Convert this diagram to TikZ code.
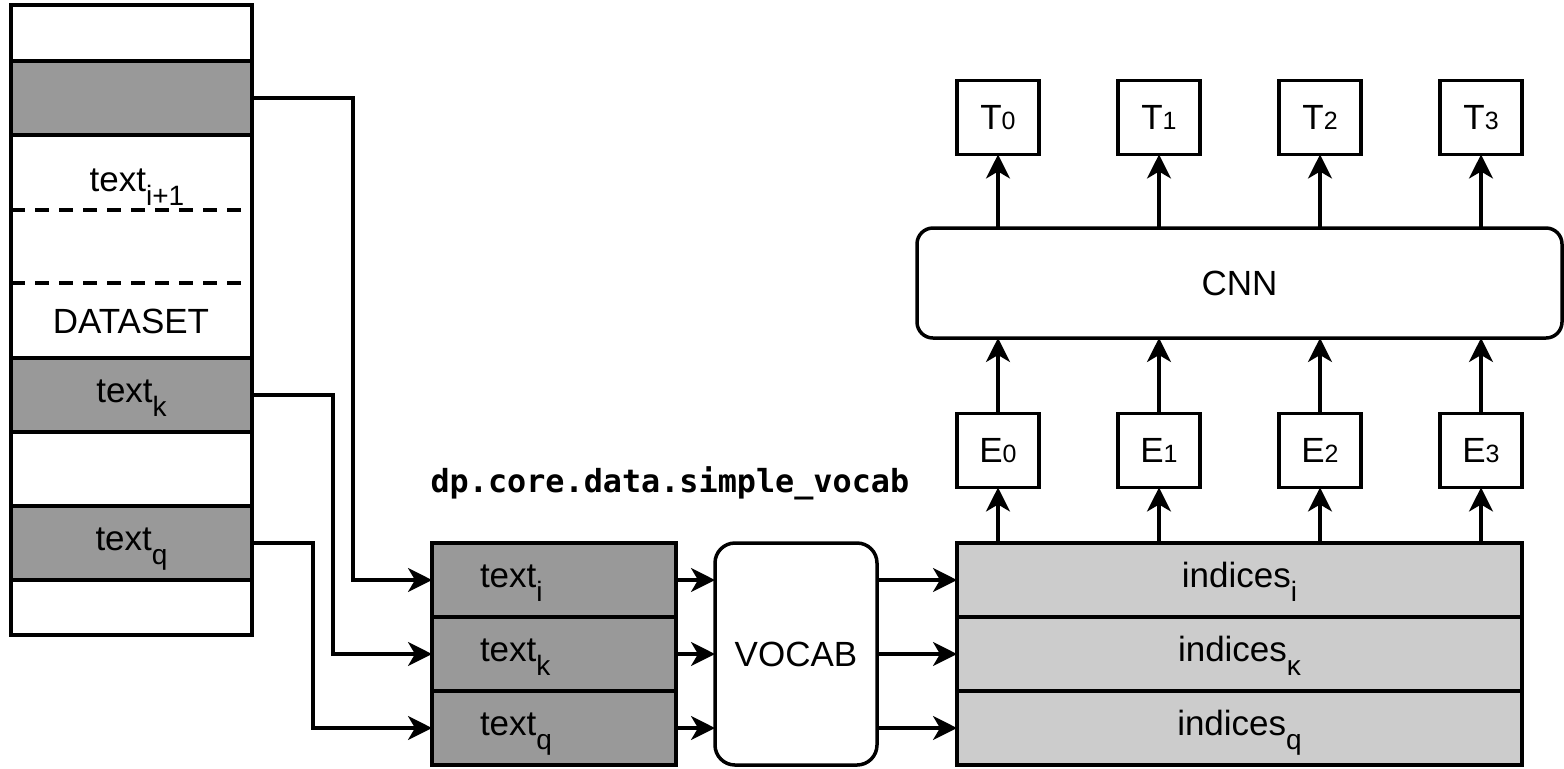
\documentclass[tikz,border=0pt]{standalone}
\usepackage{fontspec}
\setmainfont{Liberation Sans}
\newfontfamily\codefont{DejaVu Sans Mono}[BoldFont={DejaVu Sans Mono Bold}]
\usetikzlibrary{arrows.meta,positioning}

\definecolor{rowdark}{HTML}{999999}
\definecolor{rowlight}{HTML}{CCCCCC}

% lowered subscript and small index digit
\newcommand{\lowsub}[1]{\raisebox{-7pt}{\fontsize{14}{16}\selectfont #1}}
\newcommand{\smallidx}[1]{{\fontsize{12.5}{14}\selectfont #1}}

\tikzset{
  box/.style={draw, line width=1.75pt, inner sep=0pt, outer sep=0pt,
    font=\fontsize{17.5}{21}\selectfont},
  colbox/.style={box, fill=white, anchor=north west,
    minimum width=120.5pt, minimum height=315pt},
  dsrow/.style={box, fill=rowdark, anchor=north west,
    minimum width=120.5pt, minimum height=37pt, text height=12pt, text depth=5pt},
  txtrow/.style={box, fill=rowdark, anchor=north west,
    minimum width=122pt, minimum height=37pt, text width=74pt, align=left,
    inner xsep=24pt, text height=12pt, text depth=5pt},
  idxrow/.style={box, fill=rowlight, anchor=north west,
    minimum width=282.5pt, minimum height=37pt, text height=12pt, text depth=5pt},
  cell/.style={box, fill=white, minimum width=41pt, minimum height=37pt},
  roundbox/.style={box, fill=white, anchor=north west},
  plain/.style={inner sep=0pt, font=\fontsize{17.5}{21}\selectfont},
  pkg/.style={inner sep=0pt, font=\codefont\bfseries\fontsize{15.9}{18}\selectfont},
  sepline/.style={line width=1.75pt, dash pattern=on 7pt off 5pt}
}

\begin{document}
\begin{tikzpicture}[x=0.5pt,y=-0.5pt,line width=1.6pt,
  >={Stealth[length=12pt,width=12pt,inset=3.5pt]}]
  \useasboundingbox (0,0) rectangle (1564,768);

  % Dataset column
  \node[colbox] (ds) at (11,5) {};
  \node[dsrow] (dsI) at (11,61) {};
  \node[dsrow] (dsK) at (11,358) {text\lowsub{k}};
  \node[dsrow] (dsQ) at (11,506) {text\lowsub{q}};
  \draw[sepline] (11,210) -- (252,210);
  \draw[sepline] (11,283) -- (252,283);
  \node[plain, anchor=base] (next) at (137,191) {text\lowsub{i+1}};
  \node[plain, anchor=base] (dsname) at (131,333) {DATASET};

  % Batch of texts
  \node[pkg, anchor=base west] (pkg) at (429,492) {dp.core.data.simple\_vocab};
  \node[txtrow] (txtI) at (432,543) {text\lowsub{i}};
  \node[txtrow, below=0pt of txtI] (txtK) {text\lowsub{k}};
  \node[txtrow, below=0pt of txtK] (txtQ) {text\lowsub{q}};

  % Vocabulary
  \node[roundbox, rounded corners=10pt, minimum width=81pt, minimum height=111pt]
    (vocab) at (715,543) {VOCAB};

  % Indices
  \node[idxrow] (idxI) at (957,543) {indices\lowsub{i}};
  \node[idxrow, below=0pt of idxI] (idxK) {indices\lowsub{κ}};
  \node[idxrow, below=0pt of idxK] (idxQ) {indices\lowsub{q}};

  % Network
  \node[roundbox, rounded corners=8pt, minimum width=322.5pt, minimum height=55pt]
    (cnn) at (917,228) {CNN};
  \foreach \n in {0,...,3}{
    \node[cell] (E\n) at ({998+161*\n},450.5) {E\smallidx{\n}};
    \node[cell] (T\n) at ({998+161*\n},117.5) {T\smallidx{\n}};
  }

  % Connectors
  \draw[->] (dsI.east) -- ++(101,0) |- (txtI.west);
  \draw[->] (dsK.east) -- ++(81,0) |- (txtK.west);
  \draw[->] (dsQ.east) -- ++(61,0) |- (txtQ.west);
  \foreach \r in {I,K,Q}{
    \draw[->] (txt\r.east) -- (txt\r.east -| vocab.west);
    \draw[->] (txt\r.east -| vocab.east) -- (idx\r.west);
  }
  \foreach \n in {0,...,3}{
    \draw[->] (E\n.south |- idxI.north) -- (E\n.south);
    \draw[->] (E\n.north) -- (E\n.north |- cnn.south);
    \draw[->] (T\n.south |- cnn.north) -- (T\n.south);
  }
\end{tikzpicture}
\end{document}
